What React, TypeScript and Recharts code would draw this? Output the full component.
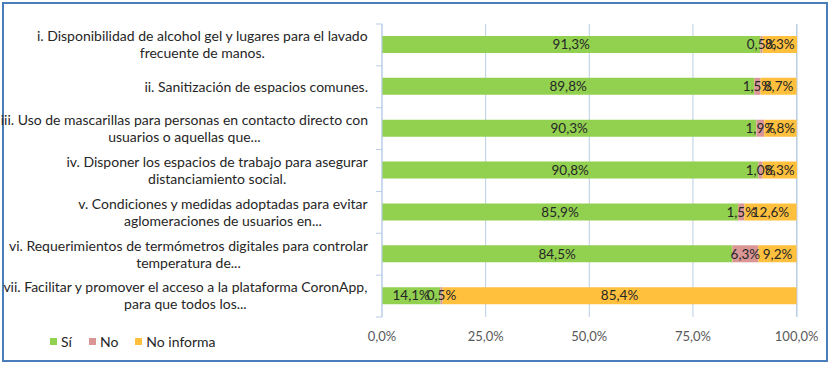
import React from 'react';
import { BarChart, Bar, XAxis, YAxis, CartesianGrid, LabelList } from 'recharts';

const categories = [
  ['i. Disponibilidad de alcohol gel y lugares para el lavado', 'frecuente de manos.'],
  ['ii. Sanitización de espacios comunes.'],
  ['iii. Uso de mascarillas para personas en contacto directo con', 'usuarios o aquellas que...'],
  ['iv. Disponer los espacios de trabajo para asegurar', 'distanciamiento social.'],
  ['v. Condiciones y medidas adoptadas para evitar', 'aglomeraciones de usuarios en...'],
  ['vi. Requerimientos de termómetros digitales para controlar', 'temperatura de...'],
  ['vii. Facilitar y promover el acceso a la plataforma CoronApp,', 'para que todos los...'],
];
const si = [91.3, 89.8, 90.3, 90.8, 85.9, 84.5, 14.1];
const no = [0.5, 1.5, 1.9, 1.0, 1.5, 6.3, 0.5];
const noInforma = [8.3, 8.7, 7.8, 8.3, 12.6, 9.2, 85.4];
const xTicks = [0, 25, 50, 75, 100];

const series = [
  { key: 'si', name: 'Sí', color: '#92D050' },
  { key: 'no', name: 'No', color: '#DA9694' },
  { key: 'noInforma', name: 'No informa', color: '#FFC03D' },
];

const data = categories.map((lines, i) => ({
  name: String(i),
  lines,
  si: si[i],
  no: no[i],
  noInforma: noInforma[i],
}));

const FONT = 'Lato, "Open Sans", sans-serif';
const CAT_SIZE = 14;
const W = 832;
const H = 365;
const M = { top: 24, right: 35, bottom: 28, left: 0 };
const Y_W = 382;
const BAND = (H - M.top - M.bottom - 20) / categories.length;

const fmt = (v: any) => `${Number(v).toFixed(1).replace('.', ',')}%`;

let ctx: CanvasRenderingContext2D | null = null;
function textWidth(s: string) {
  if (!ctx) ctx = document.createElement('canvas').getContext('2d');
  if (!ctx) return s.length * 6.5;
  ctx.font = `${CAT_SIZE}px Lato`;
  return ctx.measureText(s).width;
}

function CategoryTick(props: any) {
  const { x, y, payload, index } = props;
  const lines: string[] = data[Number(payload.value)]?.lines ?? [];
  const right = x - 6;
  const blockW = Math.max(...lines.map(textWidth));
  const cx = right - blockW / 2;
  const lh = 17;
  const y0 = y - ((lines.length - 1) * lh) / 2;
  return (
    <g>
      <line x1={x + 2} x2={x + 8} y1={y - BAND / 2} y2={y - BAND / 2} stroke="#B9CDE5" />
      {index === categories.length - 1 && (
        <line x1={x + 2} x2={x + 8} y1={y + BAND / 2} y2={y + BAND / 2} stroke="#B9CDE5" />
      )}
      {lines.map((l, i) => (
        <text
          key={i}
          x={cx}
          y={y0 + i * lh}
          dy="0.35em"
          textAnchor="middle"
          fontSize={CAT_SIZE}
          fontFamily={FONT}
          fill="#262626"
        >
          {l}
        </text>
      ))}
    </g>
  );
}

function Legend() {
  return (
    <div
      style={{
        position: 'absolute',
        left: 50,
        top: 333,
        display: 'flex',
        fontFamily: FONT,
        fontSize: 14,
        color: '#262626',
      }}
    >
      {series.map((s) => (
        <div key={s.key} style={{ display: 'flex', alignItems: 'center', marginRight: 17 }}>
          <span style={{ width: 7, height: 7, background: s.color, display: 'inline-block', marginRight: 4 }} />
          <span>{s.name}</span>
        </div>
      ))}
    </div>
  );
}

export default function App() {
  return (
    <div style={{ position: 'absolute', left: 0, top: 0, width: W, height: H, background: '#fff' }}>
      <div
        style={{
          position: 'absolute',
          left: 2,
          top: 2,
          width: 822,
          height: 356,
          border: '2px solid #4A7EBB',
        }}
      />
      <div style={{ position: 'absolute', left: 0, top: 0 }}>
        <BarChart width={W} height={H} data={data} layout="vertical" margin={M} barSize={17}>
          <CartesianGrid horizontal={false} stroke="#B9CDE5" />
          <XAxis
            xAxisId="top"
            orientation="top"
            type="number"
            domain={[0, 100]}
            ticks={xTicks}
            height={0}
            stroke="#868686"
            tickSize={5}
            tick={() => <g />}
          />
          <XAxis
            type="number"
            domain={[0, 100]}
            ticks={xTicks}
            height={20}
            axisLine={false}
            tickLine={false}
            tickMargin={9}
            tickFormatter={fmt}
            tick={{ fontSize: 13, fontFamily: FONT, fill: '#595959' }}
          />
          <YAxis
            type="category"
            dataKey="name"
            width={Y_W}
            stroke="#B9CDE5"
            tickLine={false}
            interval={0}
            tick={<CategoryTick />}
          />
          {series.map((s) => (
            <Bar key={s.key} dataKey={s.key} name={s.name} stackId="a" fill={s.color} isAnimationActive={false}>
              <LabelList
                dataKey={s.key}
                position="center"
                formatter={fmt}
                style={{ fontSize: 13.5, fontFamily: FONT, fill: '#262626' }}
              />
            </Bar>
          ))}
        </BarChart>
      </div>
      <Legend />
    </div>
  );
}
